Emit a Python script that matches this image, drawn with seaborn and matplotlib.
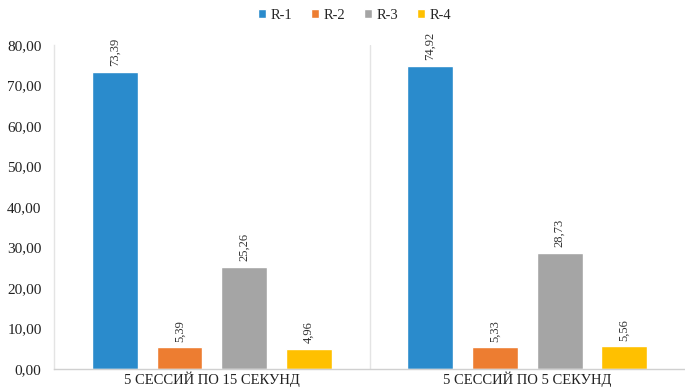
import matplotlib
matplotlib.use("Agg")
import matplotlib.pyplot as plt
import seaborn as sns
import pandas as pd

categories = ["5 СЕССИЙ ПО 15 СЕКУНД", "5 СЕССИЙ ПО 5 СЕКУНД"]
series = ["R-1", "R-2", "R-3", "R-4"]
values_15s = [73.39, 5.39, 25.26, 4.96]
values_5s = [74.92, 5.33, 28.73, 5.56]
colors = ["#2a8bcc", "#ed7d31", "#a5a5a5", "#ffc000"]

rows = []
for cat, vals in zip(categories, [values_15s, values_5s]):
    for s, v in zip(series, vals):
        rows.append({"cat": cat, "series": s, "value": v})
df = pd.DataFrame(rows)

sns.set_theme(style="white")
plt.rcParams["font.family"] = ["Liberation Serif", "DejaVu Serif"]

fig = plt.figure(figsize=(6.85, 3.89), dpi=100)
ax = fig.add_axes([0.079, 0.0514, 0.921, 0.833])

sns.barplot(data=df, x="cat", y="value", hue="series", hue_order=series,
            palette=colors, width=0.82, gap=0.29, saturation=1,
            ax=ax, legend=True)

ax.set_ylim(0, 80)
ax.set_xlim(-0.5, 1.5)
ax.set_yticks(range(0, 81, 10))
ax.set_yticklabels([f"{t},00" for t in range(0, 81, 10)], fontsize=11, color="#222222")
ax.set_xticks([0, 1])
ax.set_xticklabels(categories, fontsize=10.5, color="#222222")
ax.tick_params(axis="y", length=0, pad=9)
ax.tick_params(axis="x", length=0, pad=2)
ax.set_xlabel("")
ax.set_ylabel("")

for side in ["top", "right"]:
    ax.spines[side].set_visible(False)
ax.spines["left"].set_color("#e4e4e4")
ax.spines["bottom"].set_color("#d0d0d0")
ax.spines["left"].set_linewidth(1)
ax.spines["bottom"].set_linewidth(1)
ax.axvline(0.5, color="#e4e4e4", lw=1)

for container in ax.containers:
    labels = [f"{b.get_height():.2f}".replace(".", ",") for b in container]
    ax.bar_label(container, labels=labels, rotation=90, padding=4,
                 fontsize=9, color="#333333")

handles, labels = ax.get_legend_handles_labels()
ax.get_legend().remove()
fig.legend(handles, labels, loc="center", bbox_to_anchor=(0.518, 0.961),
           ncol=4, frameon=False, fontsize=10.5, handlelength=0.55,
           handleheight=0.55, handletextpad=0.3, columnspacing=1.3)

fig.savefig("out.png", dpi=100)
